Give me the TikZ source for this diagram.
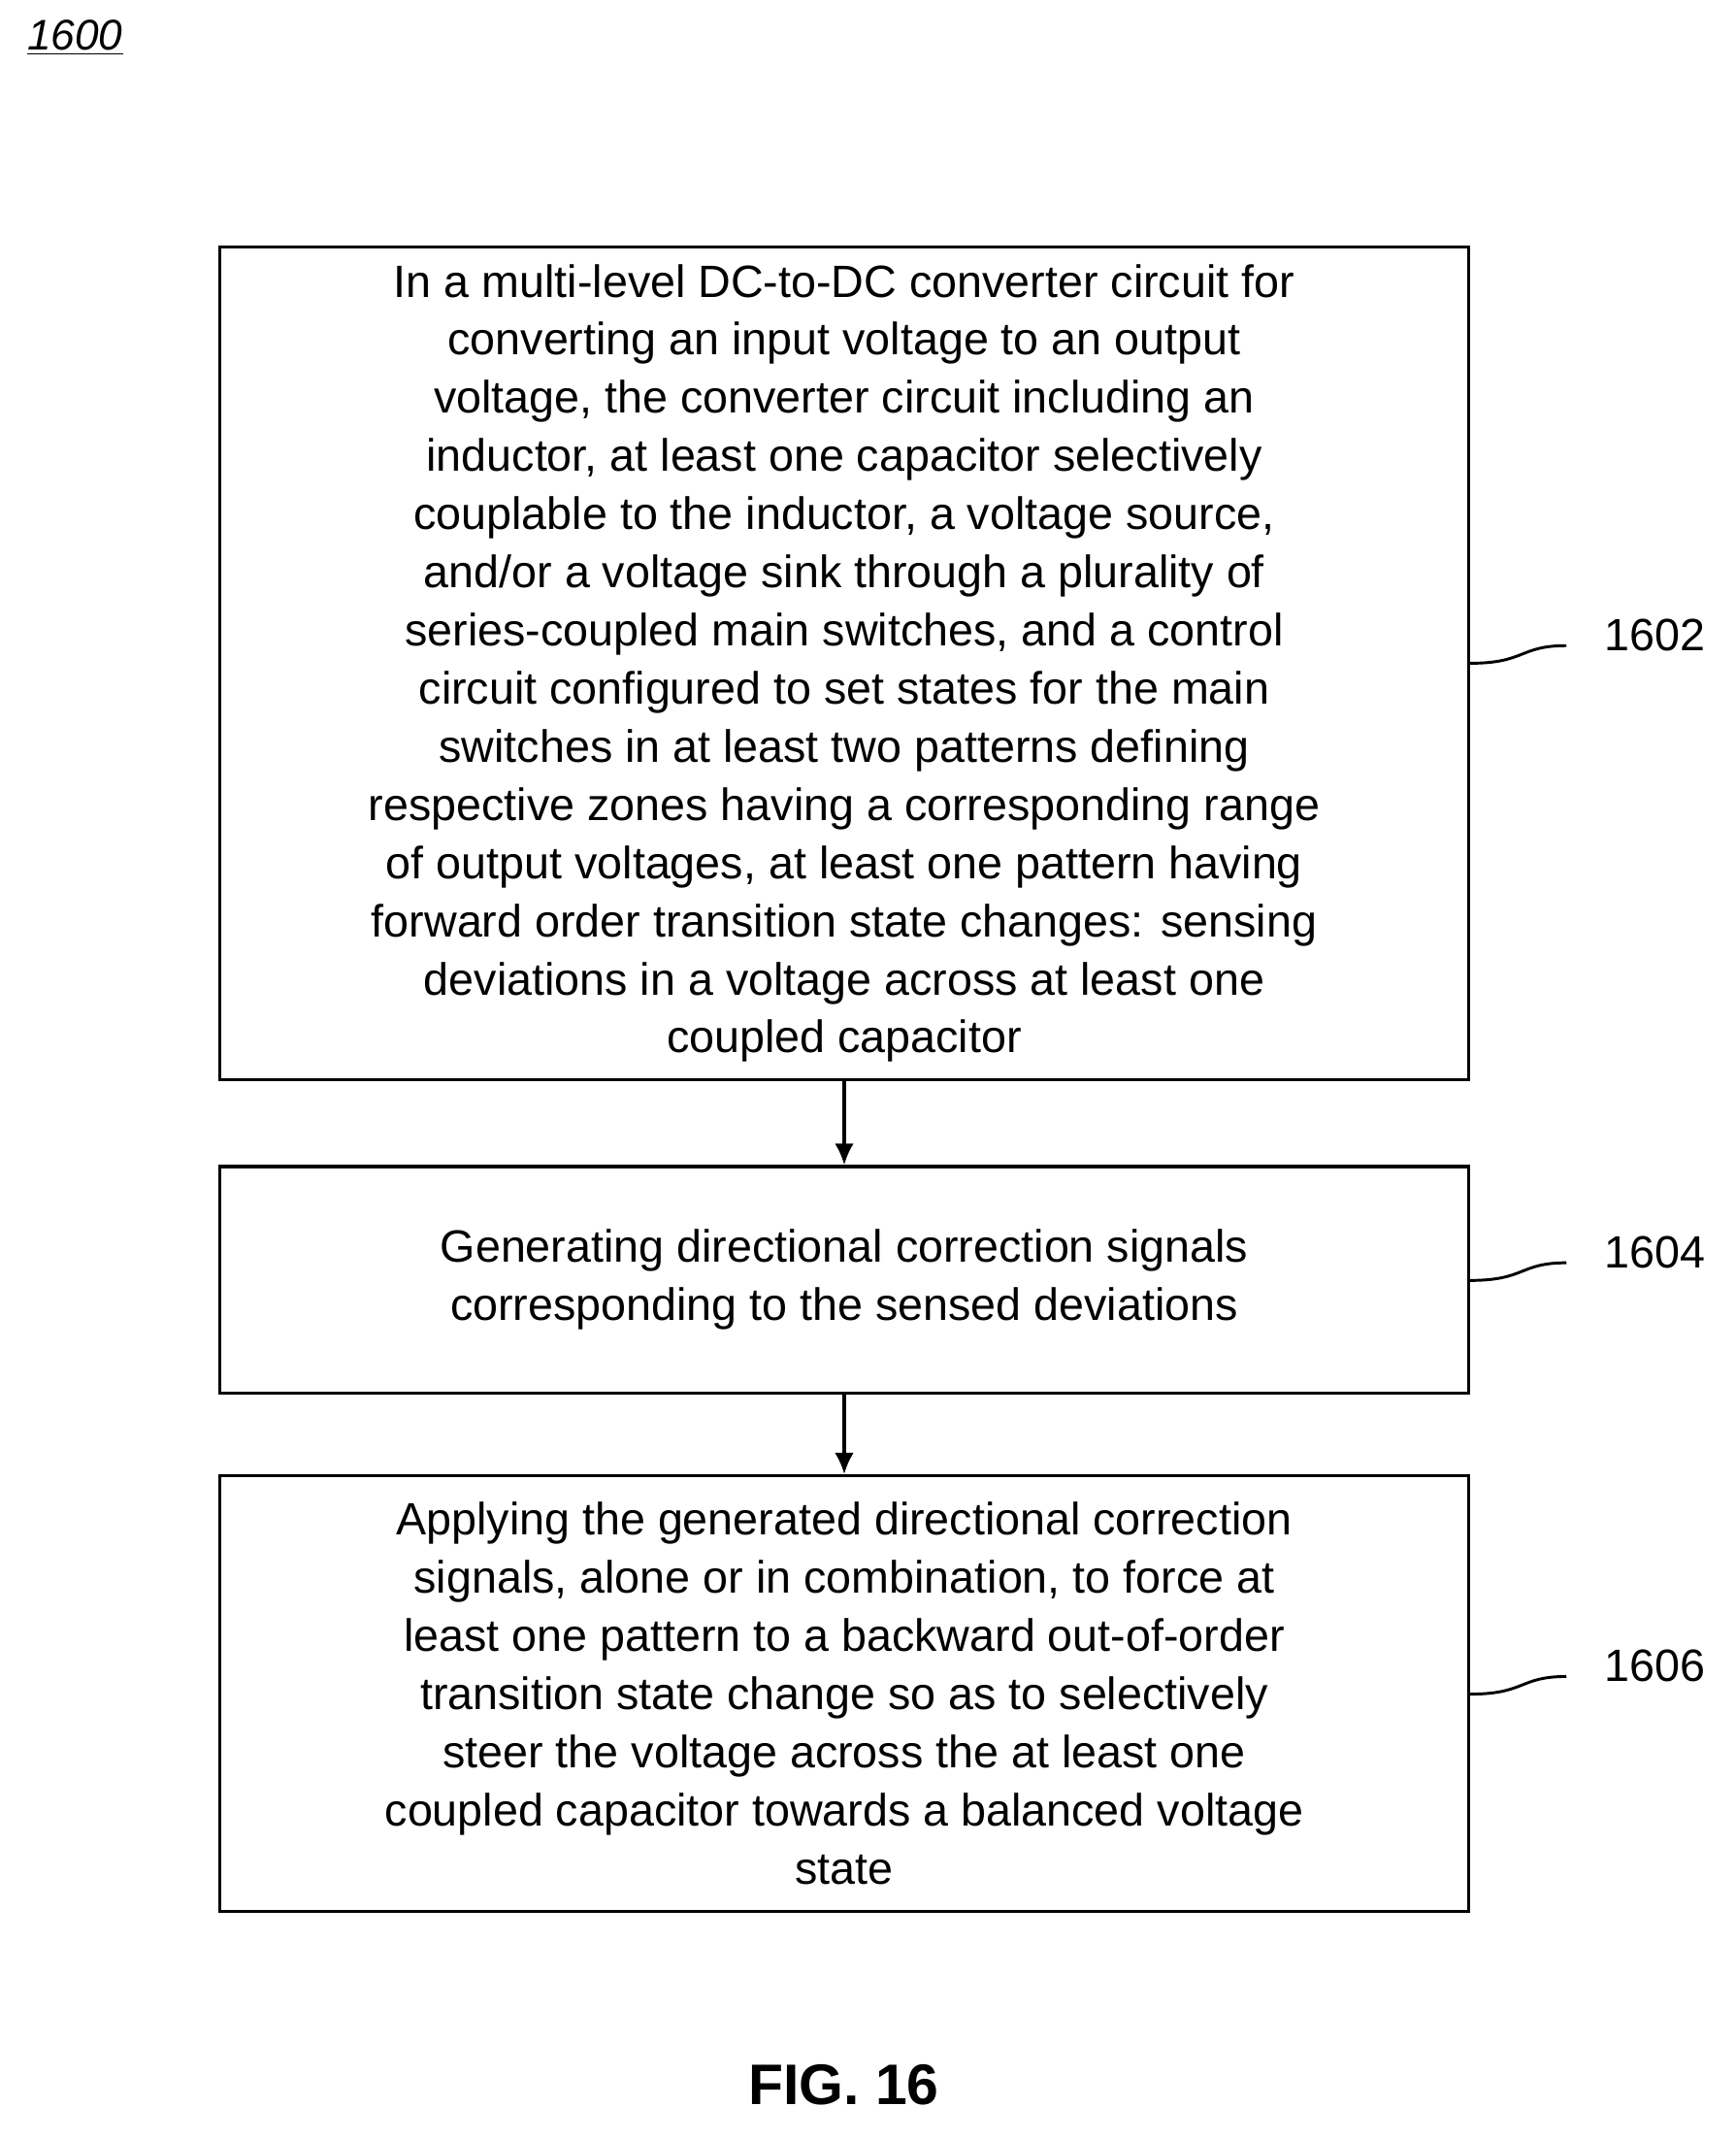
\documentclass[tikz,border=0pt]{standalone}
\usepackage{fontspec}
\setmainfont{Liberation Sans}
\usetikzlibrary{arrows.meta}
\begin{document}
\begin{tikzpicture}[x=0.02cm,y=-0.02cm,
  stepbox/.style={draw,line width=1.3pt,minimum width=18.42cm,align=center,
    font=\fontsize{19}{24.4}\selectfont,inner sep=0pt},
  reflab/.style={font=\fontsize{19}{24}\selectfont},
  flow/.style={line width=1.3pt,-{Latex[length=9pt,width=8pt]}}]
\useasboundingbox (0,0) rectangle (1280,1577);
%Title and figure number
\node[anchor=west,font=\fontsize{18}{22}\selectfont\itshape] (fignum) at (14,28) {\underline{1600}};
\node[font=\fontsize{24}{28}\selectfont\bfseries] (figlab) at (622,1537) {FIG. 16};
%Steps
\node[stepbox,minimum height=12.28cm] (s1602) at (622.5,489) {In a multi-level DC-to-DC converter circuit for\\
converting an input voltage to an output\\
voltage, the converter circuit including an\\
inductor, at least one capacitor selectively\\
couplable to the inductor, a voltage source,\\
and/or a voltage sink through a plurality of\\
series-coupled main switches, and a control\\
circuit configured to set states for the main\\
switches in at least two patterns defining\\
respective zones having a corresponding range\\
of output voltages, at least one pattern having\\
forward order transition state changes: sensing\\
deviations in a voltage across at least one\\
coupled capacitor};
\node[stepbox,minimum height=3.34cm] (s1604) at (622.5,943.5) {Generating directional correction signals\\
corresponding to the sensed deviations};
\node[stepbox,minimum height=6.42cm] (s1606) at (622.5,1248.5) {Applying the generated directional correction\\
signals, alone or in combination, to force at\\
least one pattern to a backward out-of-order\\
transition state change so as to selectively\\
steer the voltage across the at least one\\
coupled capacitor towards a balanced voltage\\
state};
%Arrows
\draw[flow] (s1602.south) -- (s1604.north);
\draw[flow] (s1604.south) -- (s1606.north);
%Reference labels
\foreach \n/\y in {1602/468,1604/923,1606/1228} {
  \node[reflab] (l\n) at (1220,\y) {\n};
  \coordinate (c\n) at (1155,\y+8);
  \coordinate (h\n) at (0,\y+21);
  \draw[line width=1.2pt] (s\n.east |- h\n) .. controls (1125,\y+21) and (1120,\y+8) .. (c\n);
}
\end{tikzpicture}
\end{document}
